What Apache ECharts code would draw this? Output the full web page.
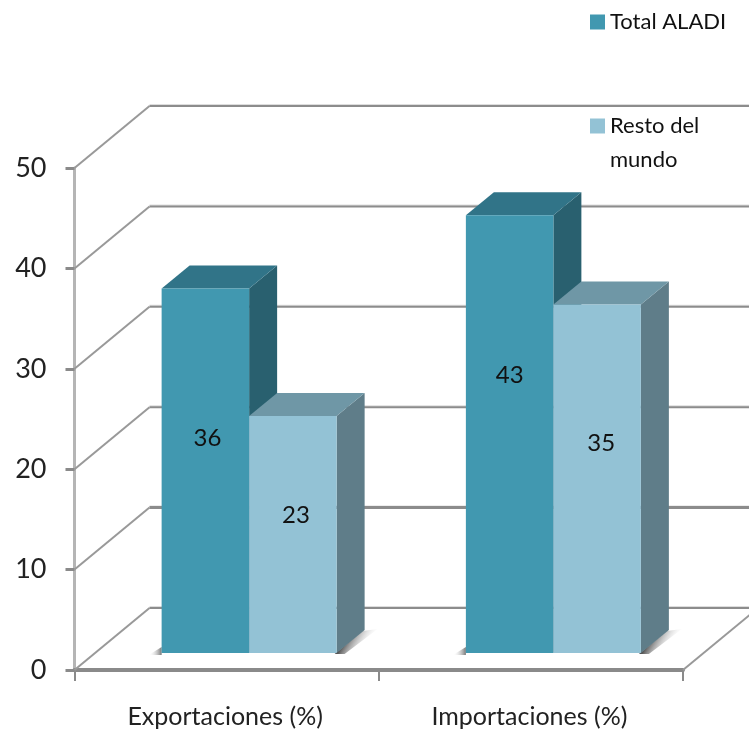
<!DOCTYPE html>
<html>
<head>
<meta charset="utf-8">
<style>html,body{margin:0;padding:0;background:#fff}#c{width:749px;height:730px}</style>
<script src="https://cdn.jsdelivr.net/npm/echarts@6/dist/echarts.min.js"></script>
</head>
<body>
<div id="c"></div>
<script>
const categories = ['Exportaciones (%)', 'Importaciones (%)'];
const yTicks = [0, 10, 20, 30, 40, 50];
const seriesNames = ['Total ALADI', 'Resto del mundo'];
const aladiPrinted = [36, 43];
const restoPrinted = [23, 35];
const aladiHeights = [36.3, 43.6];
const restoHeights = [23.6, 34.7];

const FONT = 'Lato';
const WALL = { dx: 75, dy: -62 };
const BAR = { width: 87.5, dx: 28, dy: -23, lift: 17, shift: 22.5 };
const labelShift = { aladi: [[2, 4], [0, -15]], resto: [[3, 4], [4, -1]] };
const skins = {
  aladi: { front: '#4198B0', top: '#317488', side: '#29606F' },
  resto: { front: '#93C2D5', top: '#6F97A6', side: '#5F7D89' }
};

function poly(points, fill) {
  return { type: 'polygon', shape: { points: points }, style: { fill: fill }, silent: true };
}
function seg(x1, y1, x2, y2, color, w) {
  return { type: 'line', shape: { x1, y1, x2, y2 }, style: { stroke: color, lineWidth: w, fill: null }, silent: true };
}

function renderWall(params, api) {
  const cs = params.coordSys;
  const y = api.coord([0, api.value(1)])[1];
  const left = cs.x;
  const right = cs.x + cs.width;
  const isZero = api.value(1) === 0;
  const w = api.value(1) === 10 ? 3 : 2;
  const kids = [
    seg(left, y, left + WALL.dx, y + WALL.dy, '#999999', 2),
    seg(left + WALL.dx, y + WALL.dy - 1, 760, y + WALL.dy - 1, '#dddddd', 2),
    seg(left + WALL.dx, y + WALL.dy, 760, y + WALL.dy, '#8c8c8c', w)
  ];
  if (isZero) kids.push(seg(right, y, right + WALL.dx, y + WALL.dy, '#999999', 2));
  return { type: 'group', children: kids };
}

function renderShadow(params, api) {
  const c = api.coord([api.value(0), 0]);
  const half = BAR.width;
  const base = c[1] - BAR.lift;
  const cx = c[0] + BAR.shift;
  const grad = new echarts.graphic.LinearGradient(0.3, 0.3, 0.8, 0.8, [
    { offset: 0, color: '#555555' }, { offset: 1, color: 'rgba(255,255,255,0)' }
  ]);
  const gradL = new echarts.graphic.LinearGradient(0, 0, 1, 0, [
    { offset: 0, color: 'rgba(255,255,255,0)' }, { offset: 1, color: '#777777' }
  ]);
  return { type: 'group', children: [
    poly([[cx + half - 2, base + 1], [cx + half + BAR.dx - 2, base + BAR.dy + 1], [cx + half + BAR.dx + 13, base + BAR.dy - 1], [cx + half + 8, base + 1]], grad),
    poly([[cx - half - 13, base + 2], [cx - half, base - 6], [cx - half, base + 2]], gradL)
  ]};
}

function makeBarRenderer(key, side, printed) {
  const skin = skins[key];
  return function (params, api) {
    const i = api.value(0);
    const c = api.coord([i, api.value(1)]);
    const b = api.coord([i, 0]);
    const cx = c[0] + BAR.shift;
    const x0 = side === 0 ? cx - BAR.width : cx;
    const x1 = x0 + BAR.width;
    const top = c[1] - BAR.lift;
    const base = b[1] - BAR.lift;
    const d = [BAR.dx, BAR.dy];
    const s = labelShift[key][i];
    return { type: 'group', children: [
      poly([[x1, top], [x1 + d[0], top + d[1]], [x1 + d[0], base + d[1]], [x1, base]], skin.side),
      poly([[x0, top], [x0 + d[0], top + d[1]], [x1 + d[0], top + d[1]], [x1, top]], skin.top),
      { type: 'rect', shape: { x: x0, y: top, width: BAR.width, height: base - top }, style: { fill: skin.front } },
      { type: 'text', x: (x0 + x1) / 2 + s[0], y: top + (base - top) * 0.4 + s[1],
        style: { text: String(printed[i]), fill: '#111', font: '24px ' + FONT, align: 'center', verticalAlign: 'middle' } }
    ]};
  };
}

const chart = echarts.init(document.getElementById('c'), null, { renderer: 'canvas' });
chart.setOption({
  animation: false,
  backgroundColor: '#ffffff',
  grid: { left: 74.5, width: 608.5, top: 168, height: 502 },
  xAxis: {
    type: 'category', data: categories,
    axisLine: { show: true, lineStyle: { color: '#8a8a8a', width: 4 } },
    axisTick: { show: true, length: 11, lineStyle: { color: '#8a8a8a', width: 2 } },
    axisLabel: { color: '#222', fontFamily: FONT, fontSize: 25, margin: 34, interval: 0, padding: [0, 3, 0, 0] },
    splitLine: { show: false }
  },
  yAxis: {
    type: 'value', min: 0, max: 50, interval: 10,
    axisLine: { show: true, lineStyle: { color: '#b5b5b5', width: 3 } },
    axisTick: { show: true, length: 9, lineStyle: { color: '#8a8a8a', width: 3 } },
    axisLabel: { color: '#222', fontFamily: FONT, fontSize: 27, margin: 28 },
    splitLine: { show: false }
  },
  legend: [
    { data: [seriesNames[0]], left: 585, top: 6, orient: 'vertical', icon: 'rect', itemWidth: 15, itemHeight: 15,
      selectedMode: false, textStyle: { color: '#111', fontFamily: FONT, fontSize: 22 } },
    { data: [seriesNames[1]], left: 585, top: 70, orient: 'vertical', icon: 'rect', itemWidth: 15, itemHeight: 15,
      selectedMode: false, formatter: () => '\nResto del\nmundo',
      textStyle: { color: '#111', fontFamily: FONT, fontSize: 22, lineHeight: 34 } }
  ],
  series: [
    { type: 'custom', name: 'walls', coordinateSystem: 'cartesian2d', silent: true, z: 1, renderItem: renderWall,
      data: yTicks.map(v => [0, v]), clip: false },
    { type: 'custom', name: 'shadow', coordinateSystem: 'cartesian2d', silent: true, z: 2, renderItem: renderShadow,
      data: categories.map((_, i) => [i, 0]), clip: false },
    { type: 'custom', name: seriesNames[0], coordinateSystem: 'cartesian2d', z: 3, itemStyle: { color: skins.aladi.front },
      renderItem: makeBarRenderer('aladi', 0, aladiPrinted), data: aladiHeights.map((v, i) => [i, v]), clip: false },
    { type: 'custom', name: seriesNames[1], coordinateSystem: 'cartesian2d', z: 4, itemStyle: { color: skins.resto.front },
      renderItem: makeBarRenderer('resto', 1, restoPrinted), data: restoHeights.map((v, i) => [i, v]), clip: false }
  ]
});
</script>
</body>
</html>
